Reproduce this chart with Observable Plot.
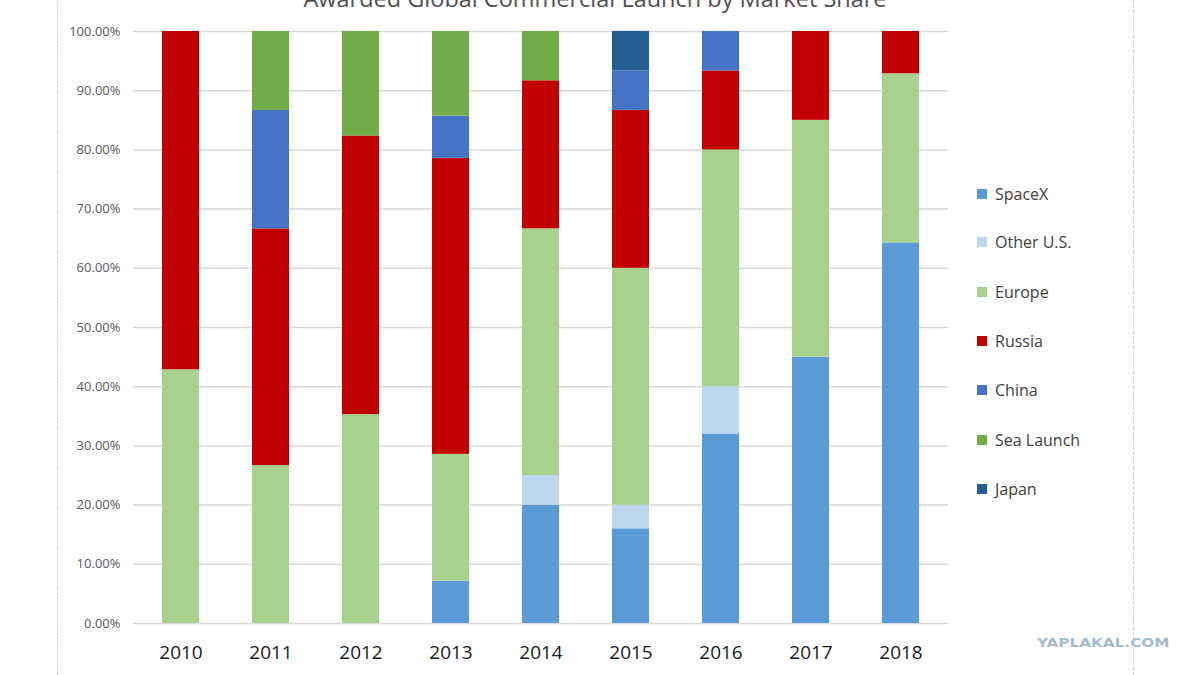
<!DOCTYPE html>
<html>
<head>
<meta charset="utf-8">
<script src="https://cdn.jsdelivr.net/npm/d3@7"></script>
<script src="https://cdn.jsdelivr.net/npm/@observablehq/plot@0.6"></script>
<style>
  html, body { margin: 0; padding: 0; background: #fff; }
  #wrap { position: relative; width: 1200px; height: 675px; overflow: hidden; font-family: "Open Sans", sans-serif; }
  #title { position: absolute; left: 0; width: 1190px; top: -14px; text-align: center; font-size: 23.5px; line-height: 24px; color: #505050; }
  .vline { position: absolute; top: 0; height: 675px; width: 0; border-left: 1.5px dashed #cfcfcf; }
  #legend { position: absolute; left: 977px; top: 0; }
  .item { position: absolute; left: 0; white-space: nowrap; font-size: 16px; color: #404040; display: flex; align-items: center; height: 20px; }
  .sw { width: 10px; height: 10px; margin-right: 8px; }
  #wm { position: absolute; left: 1037px; top: 636px; font-family: "DejaVu Sans", sans-serif; font-weight: bold; font-size: 12px; color: #a2bbd1; transform: scaleX(1.27); transform-origin: left center; }
  #chart { position: absolute; left: 0; top: 0; }
</style>
</head>
<body>
<div id="wrap">
  <div class="vline" style="left:57px"></div>
  <div class="vline" style="left:1133px"></div>
  <div id="chart"></div>
  <div id="title">Awarded Global Commercial Launch by Market Share</div>
  <div id="legend"></div>
  <div id="wm">YAPLAKAL.COM</div>
</div>
<script>
const years = ["2010", "2011", "2012", "2013", "2014", "2015", "2016", "2017", "2018"];
const seriesNames = ["SpaceX", "Other U.S.", "Europe", "Russia", "China", "Sea Launch", "Japan"];
const seriesColors = ["#5B9BD5", "#BDD7EE", "#A9D18E", "#C00000", "#4472C4", "#70AD47", "#255E91"];
const spacex    = [0, 0, 0, 7.14, 20, 16, 32, 45, 64.29];
const otherUS   = [0, 0, 0, 0, 5, 4, 8, 0, 0];
const europe    = [42.86, 26.67, 35.29, 21.43, 41.67, 40, 40, 40, 28.57];
const russia    = [57.14, 40, 47.06, 50, 25, 26.67, 13.33, 15, 7.14];
const china     = [0, 20, 0, 7.14, 0, 6.67, 6.67, 0, 0];
const seaLaunch = [0, 13.33, 17.65, 14.29, 8.33, 0, 0, 0, 0];
const japan     = [0, 0, 0, 0, 0, 6.67, 0, 0, 0];
const yTicks = [0, 10, 20, 30, 40, 50, 60, 70, 80, 90, 100];

const seriesValues = [spacex, otherUS, europe, russia, china, seaLaunch, japan];
const data = [];
seriesNames.forEach((s, i) => {
  years.forEach((y, j) => data.push({ year: y, series: s, value: seriesValues[i][j] }));
});

const chart = Plot.plot({
  width: 1200,
  height: 675,
  marginLeft: 133,
  marginRight: 252,
  marginTop: 31,
  marginBottom: 52,
  style: { fontFamily: "'Open Sans', sans-serif", background: "transparent" },
  x: { domain: years, paddingInner: 0.59, paddingOuter: 0.295, label: null },
  y: { domain: [0, 100], label: null },
  color: { domain: seriesNames, range: seriesColors },
  marks: [
    Plot.ruleY(yTicks, { stroke: "#d9d9d9", strokeWidth: 1.5 }),
    Plot.barY(data, { x: "year", y: "value", fill: "series", z: "series", order: seriesNames }),
    Plot.axisY({ ticks: yTicks, tickSize: 0, tickPadding: 13, tickFormat: d => d.toFixed(2) + "%", fontSize: 13, color: "#595959" }),
    Plot.axisX({ tickSize: 0, tickPadding: 22, fontSize: 19, color: "#1a1a1a" })
  ]
});
document.getElementById("chart").appendChild(chart);

const legend = document.getElementById("legend");
const legendY = [194, 242, 292, 341, 390, 440, 489];
seriesNames.forEach((s, i) => {
  const it = document.createElement("div");
  it.className = "item";
  it.style.top = (legendY[i] - 10) + "px";
  it.innerHTML = `<span class="sw" style="background:${seriesColors[i]}"></span><span>${s}</span>`;
  legend.appendChild(it);
});
</script>
</body>
</html>
